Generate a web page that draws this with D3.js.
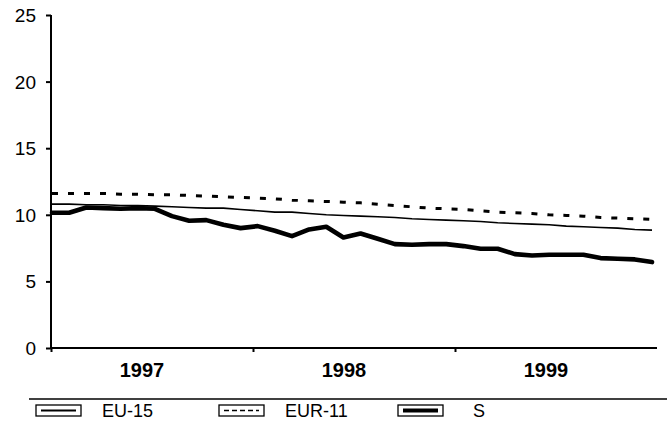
<!DOCTYPE html>
<html><head><meta charset="utf-8">
<script src="https://cdn.jsdelivr.net/npm/d3@7"></script>
<style>body{margin:0;background:#fff}svg{display:block}text{font-family:"Liberation Sans",Arial,sans-serif;fill:#000}</style>
</head><body>
<svg id="c" width="667" height="430"></svg>
<script>
const months = ["1997-01","1997-02","1997-03","1997-04","1997-05","1997-06","1997-07","1997-08","1997-09","1997-10","1997-11","1997-12",
"1998-01","1998-02","1998-03","1998-04","1998-05","1998-06","1998-07","1998-08","1998-09","1998-10","1998-11","1998-12",
"1999-01","1999-02","1999-03","1999-04","1999-05","1999-06","1999-07","1999-08","1999-09","1999-10","1999-11","1999-12"];
const eu15 = [10.8,10.8,10.75,10.75,10.7,10.7,10.65,10.6,10.55,10.5,10.5,10.4,10.3,10.2,10.2,10.1,10.0,9.95,9.9,9.85,9.8,9.7,9.65,9.6,9.55,9.5,9.4,9.35,9.3,9.25,9.15,9.1,9.05,9.0,8.9,8.85];
const eur11 = [11.6,11.6,11.6,11.6,11.55,11.55,11.5,11.5,11.45,11.4,11.35,11.3,11.25,11.2,11.1,11.05,11.0,10.95,10.9,10.8,10.7,10.6,10.5,10.45,10.4,10.3,10.2,10.15,10.1,10.0,9.95,9.9,9.8,9.75,9.7,9.65];
const sweden = [10.15,10.15,10.55,10.5,10.45,10.5,10.45,9.9,9.55,9.6,9.25,9.0,9.15,8.8,8.4,8.9,9.1,8.3,8.6,8.2,7.8,7.75,7.8,7.8,7.65,7.45,7.45,7.05,6.95,7.0,7.0,7.0,6.75,6.7,6.65,6.45];
const years = [1997,1998,1999];
const yTicks = [0,5,10,15,20,25];
const seriesNames = ["EU-15","EUR-11","S"];

const svg = d3.select("#c");
const y = d3.scaleLinear().domain([0,25]).range([348,15]);
const x = d3.scalePoint().domain(months).range([52,652]);
const xy = d3.scaleLinear().domain([1997,2000]).range([51,657]);

// y axis
const ya = svg.append("g").attr("transform","translate(51,0)")
  .call(d3.axisLeft(y).tickValues(yTicks).tickSize(5).tickPadding(10).tickFormat(d3.format("d")));
ya.select(".domain").attr("stroke","#000").attr("stroke-width",2).attr("d","M0,15V348");
ya.selectAll(".tick line").attr("stroke","#000").attr("stroke-width",2);
ya.selectAll(".tick text").style("font-size","19px").attr("dy","0.34em");

// x axis
const xa = svg.append("g").attr("transform","translate(0,348)")
  .call(d3.axisBottom(xy).tickValues(years).tickSize(4).tickFormat(""));
xa.select(".domain").attr("stroke","#000").attr("stroke-width",2).attr("d","M51,0H657");
xa.selectAll(".tick line").attr("stroke","#000").attr("stroke-width",2);
svg.append("g").selectAll("text").data(years).join("text")
  .attr("x",d=>xy(d+0.5)-10).attr("y",377).attr("text-anchor","middle")
  .style("font-size","20px").style("font-weight","bold").text(d=>d);

const line = vals => d3.line().x((d,i)=>x(months[i])).y(d=>y(d))(vals);
svg.append("path").attr("d",line(eur11)).attr("fill","none").attr("stroke","#000")
  .attr("stroke-width",3).attr("stroke-dasharray","6,10");
svg.append("path").attr("d",line(eu15)).attr("fill","none").attr("stroke","#000")
  .attr("stroke-width",1.6);
svg.append("path").attr("d",line(sweden)).attr("fill","none").attr("stroke","#000")
  .attr("stroke-width",4.6).attr("stroke-linejoin","round").attr("stroke-linecap","round");

// legend
svg.append("line").attr("x1",29).attr("x2",667).attr("y1",399).attr("y2",399)
  .attr("stroke","#000").attr("stroke-width",1.5);
const lg = [
  {box:36, tx:102, w:1.8, dash:null},
  {box:219, tx:285, w:1.6, dash:"5,3"},
  {box:398, tx:473, w:4, dash:null}
];
const g = svg.append("g").selectAll("g").data(seriesNames).join("g");
g.append("rect").attr("x",(d,i)=>lg[i].box).attr("y",405).attr("width",45).attr("height",11)
  .attr("fill","none").attr("stroke","#000").attr("stroke-width",1.3);
g.append("line").attr("x1",(d,i)=>lg[i].box+5).attr("x2",(d,i)=>lg[i].box+40)
  .attr("y1",410.5).attr("y2",410.5).attr("stroke","#000")
  .attr("stroke-width",(d,i)=>lg[i].w).attr("stroke-dasharray",(d,i)=>lg[i].dash);
g.append("text").attr("x",(d,i)=>lg[i].tx).attr("y",417).style("font-size","18px").text(d=>d);
</script>
</body></html>
